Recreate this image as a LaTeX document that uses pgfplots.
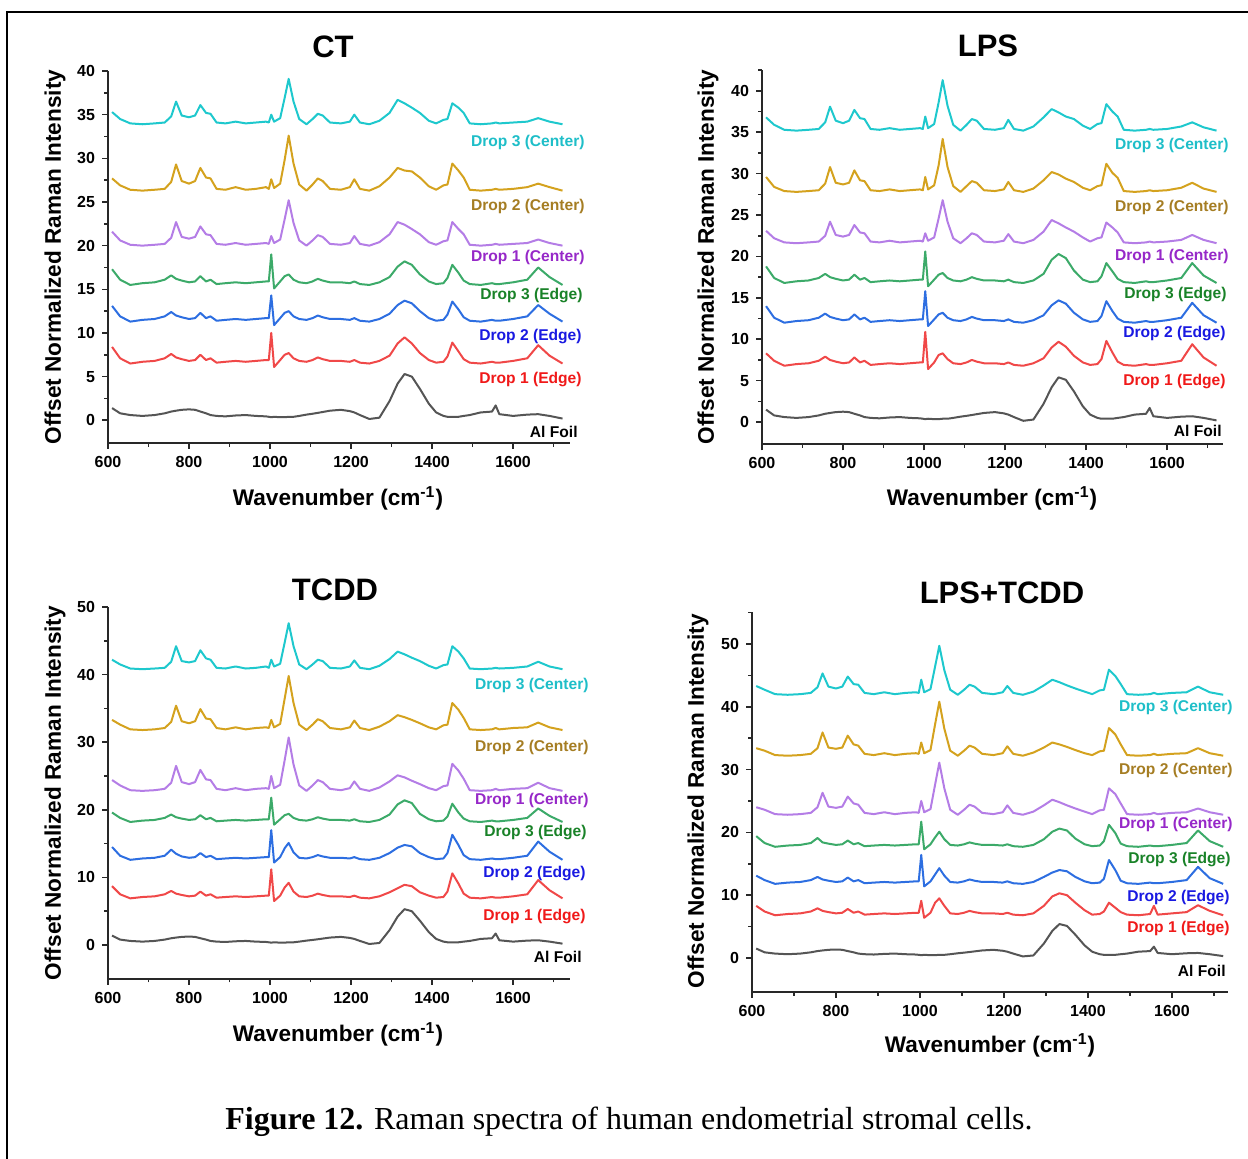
\documentclass[border=0pt]{standalone}
\usepackage{fontspec}
\setmainfont{Liberation Serif}
\newfontfamily\arial{Liberation Sans}
\usepackage{pgfplots}
\usepackage{pgfplotstable}
\pgfplotsset{compat=1.18}

\definecolor{grayL}{RGB}{85,85,85}
\definecolor{redL}{RGB}{240,72,72}
\definecolor{blueL}{RGB}{45,110,225}
\definecolor{greenL}{RGB}{60,170,105}
\definecolor{purpL}{RGB}{180,125,230}
\definecolor{goldL}{RGB}{212,162,30}
\definecolor{cyanL}{RGB}{30,200,205}
\definecolor{redT}{RGB}{240,25,25}
\definecolor{blueT}{RGB}{25,25,225}
\definecolor{greenT}{RGB}{25,130,40}
\definecolor{purpT}{RGB}{150,40,200}
\definecolor{goldT}{RGB}{165,125,35}
\definecolor{cyanT}{RGB}{30,190,200}
\definecolor{axisc}{RGB}{40,40,40}

\newcommand\tickfont{\arial\bfseries\fontsize{8}{9}\selectfont}
\newcommand\labfont{\arial\bfseries\fontsize{7.8}{9}\selectfont}
\newcommand\axfont{\arial\bfseries\fontsize{11.3}{13}\selectfont}
\newcommand\ttlfont{\arial\bfseries\fontsize{15.5}{18}\selectfont}

% columns: x, Al foil, Drop 1/2/3 (Edge) = r b g, Drop 1/2/3 (Center) = p o c
\pgfplotstableread{
x al r b g p o c
610 1.4 8.4 13.1 17.3 21.6 27.7 35.3
630 0.8 7.1 11.9 16.1 20.6 26.9 34.5
655 0.6 6.5 11.3 15.5 20.1 26.4 34.0
685 0.5 6.7 11.5 15.7 20.0 26.3 33.9
715 0.6 6.8 11.6 15.8 20.1 26.4 34.0
740 0.8 7.1 11.9 16.1 20.2 26.5 34.1
756 1.0 7.6 12.4 16.6 20.9 27.3 34.8
768 1.1 7.2 12.0 16.2 22.7 29.3 36.5
782 1.2 7.0 11.8 16.0 21.0 27.4 34.9
800 1.25 6.8 11.6 15.8 20.8 27.1 34.7
815 1.2 6.9 11.7 15.9 21.0 27.4 34.9
828 1.0 7.5 12.3 16.5 22.2 28.9 36.1
842 0.8 6.9 11.7 15.9 21.3 27.8 35.2
853 0.6 7.1 11.9 16.1 21.2 27.7 35.1
868 0.5 6.6 11.4 15.6 20.2 26.5 34.1
890 0.45 6.7 11.5 15.7 20.1 26.4 34.0
915 0.55 6.8 11.6 15.8 20.3 26.7 34.2
940 0.6 6.7 11.5 15.7 20.1 26.4 34.0
965 0.5 6.8 11.6 15.8 20.2 26.5 34.1
990 0.45 6.9 11.7 15.9 20.3 26.7 34.2
997 0.4 6.9 11.7 15.9 20.2 26.5 34.1
1003 0.35 10.0 14.3 19.0 21.1 27.6 35.0
1010 0.4 6.1 10.9 15.1 20.3 26.6 34.2
1025 0.35 6.9 11.7 15.9 20.7 27.1 34.6
1036 0.35 7.5 12.3 16.5 23.0 29.8 36.9
1046 0.4 7.7 12.5 16.7 25.2 32.6 39.1
1058 0.4 7.1 11.9 16.1 22.6 29.4 36.5
1072 0.5 6.8 11.6 15.8 20.6 27.0 34.5
1090 0.65 6.7 11.5 15.7 20.0 26.3 33.9
1105 0.75 6.9 11.7 15.9 20.6 27.0 34.5
1118 0.85 7.2 12.0 16.2 21.2 27.7 35.1
1130 0.95 7.0 11.8 16.0 21.0 27.4 34.9
1148 1.1 6.8 11.6 15.8 20.2 26.5 34.1
1175 1.2 6.8 11.6 15.8 20.1 26.4 34.0
1197 1.05 6.7 11.5 15.7 20.3 26.7 34.2
1208 0.9 6.9 11.7 15.9 21.1 27.6 35.0
1222 0.6 6.6 11.4 15.6 20.2 26.5 34.1
1245 0.15 6.5 11.3 15.5 20.0 26.3 33.9
1270 0.3 6.8 11.6 15.8 20.4 26.8 34.3
1295 2.2 7.4 12.2 16.4 21.3 27.8 35.2
1315 4.2 8.8 13.2 17.6 22.7 28.9 36.7
1332 5.3 9.5 13.7 18.2 22.4 28.6 36.3
1350 5.0 8.8 13.4 17.8 21.9 28.5 35.8
1370 3.6 7.7 12.5 16.7 21.3 27.8 35.2
1392 1.9 6.9 11.7 15.9 20.4 26.8 34.3
1410 0.9 6.6 11.4 15.6 20.1 26.4 34.0
1428 0.5 6.7 11.5 15.7 20.5 26.9 34.4
1438 0.4 7.3 12.1 16.3 20.6 27.0 34.5
1450 0.4 8.9 13.6 17.8 22.7 29.4 36.3
1465 0.4 7.9 12.7 16.9 21.9 28.6 35.8
1478 0.5 7.0 11.8 16.0 21.3 27.8 35.2
1493 0.6 6.6 11.4 15.6 20.1 26.4 34.0
1520 0.9 6.5 11.3 15.5 20.0 26.3 33.9
1548 1.0 6.7 11.5 15.7 20.1 26.4 34.0
1557 1.7 6.6 11.4 15.6 20.2 26.5 34.1
1566 0.7 6.6 11.4 15.6 20.1 26.4 34.0
1600 0.5 6.8 11.6 15.8 20.2 26.5 34.1
1635 0.65 7.1 11.9 16.1 20.3 26.7 34.2
1662 0.7 8.6 13.2 17.5 20.7 27.1 34.6
1690 0.5 7.4 12.2 16.4 20.3 26.7 34.2
1722 0.2 6.5 11.3 15.5 20.0 26.3 33.9
}\tabCT

\pgfplotstableread{
x al r b g p o c
610 1.5 8.3 14.0 18.8 23.1 29.6 36.8
630 0.8 7.4 12.6 17.4 22.2 28.4 35.9
655 0.6 6.8 12.0 16.8 21.7 27.9 35.3
685 0.5 7.0 12.2 17.0 21.6 27.8 35.2
715 0.6 7.1 12.3 17.1 21.7 27.9 35.3
740 0.8 7.4 12.6 17.4 21.8 28.0 35.4
756 1.0 7.9 13.1 17.9 22.5 28.8 36.2
768 1.1 7.5 12.7 17.5 24.2 30.8 38.1
782 1.2 7.3 12.5 17.3 22.6 28.9 36.4
800 1.25 7.1 12.3 17.1 22.4 28.7 36.1
815 1.2 7.2 12.4 17.2 22.6 28.9 36.4
828 1.0 7.8 13.0 17.8 23.8 30.4 37.7
842 0.8 7.2 12.4 17.2 22.9 29.2 36.7
853 0.6 7.4 12.6 17.4 22.8 29.1 36.6
868 0.5 6.9 12.1 16.9 21.8 28.0 35.4
890 0.45 7.0 12.2 17.0 21.7 27.9 35.3
915 0.55 7.1 12.3 17.1 21.9 28.1 35.5
940 0.6 7.0 12.2 17.0 21.7 27.9 35.3
965 0.5 7.1 12.3 17.1 21.8 28.0 35.4
990 0.45 7.2 12.4 17.2 21.9 28.1 35.5
997 0.4 7.2 12.4 17.2 21.8 28.0 35.4
1003 0.35 10.9 15.8 20.6 22.8 29.6 36.9
1010 0.4 6.4 11.6 16.4 21.9 28.1 35.5
1025 0.35 7.2 12.4 17.2 22.3 28.6 36.0
1036 0.35 8.1 13.0 17.8 24.6 31.0 38.6
1046 0.4 8.3 13.2 18.0 26.8 34.2 41.3
1058 0.4 7.6 12.6 17.4 24.2 30.8 38.2
1072 0.5 7.1 12.3 17.1 22.2 28.5 35.9
1090 0.65 7.0 12.2 17.0 21.6 27.8 35.2
1105 0.75 7.2 12.4 17.2 22.2 28.5 35.9
1118 0.85 7.5 12.7 17.5 22.8 29.1 36.6
1130 0.95 7.3 12.5 17.3 22.6 28.9 36.4
1148 1.1 7.1 12.3 17.1 21.8 28.0 35.4
1175 1.2 7.1 12.3 17.1 21.7 27.9 35.3
1197 1.05 7.0 12.2 17.0 21.9 28.1 35.5
1208 0.9 7.2 12.4 17.2 22.7 29.0 36.5
1222 0.6 6.9 12.1 16.9 21.8 28.0 35.4
1245 0.15 6.8 12.0 16.8 21.6 27.8 35.2
1270 0.3 7.1 12.3 17.1 22.0 28.2 35.7
1295 2.2 7.7 12.9 17.9 23.0 29.2 36.8
1315 4.2 9.0 14.1 19.6 24.4 30.2 37.8
1332 5.4 9.7 14.7 20.3 24.0 29.9 37.4
1350 5.1 9.1 14.3 19.8 23.5 29.4 36.9
1370 3.7 8.0 13.2 18.3 23.0 29.0 36.6
1392 1.9 7.2 12.4 17.2 22.3 28.3 35.8
1410 0.9 6.9 12.1 16.9 21.8 28.0 35.4
1428 0.5 7.0 12.2 17.0 22.2 28.5 36.0
1438 0.4 7.6 12.8 17.6 22.3 28.6 36.1
1450 0.4 9.8 14.6 19.2 24.1 31.2 38.4
1465 0.4 8.4 13.4 18.2 23.5 30.1 37.5
1478 0.5 7.3 12.5 17.3 22.9 29.5 36.9
1493 0.6 6.9 12.1 16.9 21.7 27.9 35.3
1520 0.9 6.8 12.0 16.8 21.6 27.8 35.2
1548 1.0 7.0 12.2 17.0 21.7 27.9 35.3
1557 1.7 6.9 12.1 16.9 21.8 28.0 35.4
1566 0.7 6.9 12.1 16.9 21.7 27.9 35.3
1600 0.5 7.1 12.3 17.1 21.8 28.0 35.4
1635 0.65 7.4 12.6 17.4 22.0 28.3 35.7
1662 0.7 9.4 14.4 19.2 22.6 28.9 36.2
1690 0.5 7.8 12.9 17.7 22.0 28.2 35.6
1722 0.2 6.8 12.0 16.8 21.6 27.8 35.2
}\tabLPS

\pgfplotstableread{
x al r b g p o c
610 1.4 8.7 14.5 19.6 24.4 33.3 42.2
630 0.8 7.5 13.2 18.8 23.6 32.6 41.5
655 0.6 6.9 12.6 18.2 22.9 31.9 40.9
685 0.5 7.1 12.8 18.4 22.8 31.8 40.8
715 0.6 7.2 12.9 18.5 22.9 31.9 40.9
740 0.8 7.5 13.2 18.8 23.1 32.1 41.0
756 1.0 8.0 14.1 19.3 24.0 33.0 41.9
768 1.1 7.6 13.5 18.9 26.5 35.4 44.2
782 1.2 7.4 13.1 18.7 24.1 33.1 42.0
800 1.25 7.2 12.9 18.5 23.8 32.8 41.8
815 1.2 7.3 13.0 18.6 24.1 33.1 42.0
828 1.0 7.9 13.6 19.2 25.9 34.9 43.6
842 0.8 7.3 13.0 18.6 24.5 33.5 42.4
853 0.6 7.5 13.2 18.8 24.4 33.4 42.2
868 0.5 7.0 12.7 18.3 23.1 32.1 41.0
890 0.45 7.1 12.8 18.4 22.9 31.9 40.9
915 0.55 7.2 12.9 18.5 23.2 32.2 41.2
940 0.6 7.1 12.8 18.4 22.9 31.9 40.9
965 0.5 7.2 12.9 18.5 23.1 32.1 41.0
990 0.45 7.3 13.0 18.6 23.2 32.2 41.2
997 0.4 7.3 13.0 18.6 23.1 32.1 41.0
1003 0.35 11.2 17.0 21.8 25.0 33.3 42.2
1010 0.4 6.5 12.2 17.8 23.2 32.2 41.2
1025 0.35 7.3 13.0 18.6 23.7 32.7 41.6
1036 0.35 8.5 14.3 19.2 27.3 36.4 44.7
1046 0.4 9.2 15.1 19.4 30.7 39.8 47.6
1058 0.4 7.9 13.7 18.8 26.7 35.8 44.2
1072 0.5 7.2 12.9 18.5 23.6 32.6 41.5
1090 0.65 7.1 12.8 18.4 22.8 31.8 40.8
1105 0.75 7.3 13.0 18.6 23.6 32.6 41.5
1118 0.85 7.6 13.3 18.9 24.4 33.4 42.2
1130 0.95 7.4 13.1 18.7 24.1 33.1 42.0
1148 1.1 7.2 12.9 18.5 23.1 32.1 41.0
1175 1.2 7.2 12.9 18.5 22.9 31.9 40.9
1197 1.05 7.1 12.8 18.4 23.2 32.2 41.2
1208 0.9 7.3 13.0 18.6 24.2 33.2 42.1
1222 0.6 7.0 12.7 18.3 23.1 32.1 41.0
1245 0.15 6.9 12.6 18.2 22.8 31.8 40.8
1270 0.3 7.2 12.9 18.5 23.3 32.3 41.3
1295 2.2 7.8 13.6 19.3 24.2 33.1 42.3
1315 4.2 8.4 14.4 20.8 25.1 34.0 43.4
1332 5.3 8.9 14.8 21.4 24.8 33.7 43.0
1350 5.0 8.7 14.6 21.0 24.3 33.3 42.5
1370 3.6 7.8 13.6 19.4 23.8 32.8 42.0
1392 1.9 7.3 13.0 18.6 23.2 32.2 41.3
1410 0.9 7.0 12.7 18.3 22.9 31.9 40.9
1428 0.5 7.1 12.8 18.4 23.5 32.5 41.4
1438 0.4 7.9 13.6 19.0 23.6 32.6 41.5
1450 0.4 10.6 16.3 20.9 26.8 35.8 44.2
1465 0.4 9.1 14.8 19.6 25.8 34.8 43.4
1478 0.5 7.6 13.3 18.7 24.6 33.6 42.4
1493 0.6 7.0 12.7 18.3 22.9 31.9 40.9
1520 0.9 6.9 12.6 18.2 22.8 31.8 40.8
1548 1.0 7.1 12.8 18.4 22.9 31.9 40.9
1557 1.7 7.0 12.7 18.3 23.1 32.1 41.0
1566 0.7 7.0 12.7 18.3 22.9 31.9 40.9
1600 0.5 7.2 12.9 18.5 23.1 32.1 41.0
1635 0.65 7.5 13.2 18.8 23.2 32.2 41.2
1662 0.7 9.6 15.3 20.2 24.0 32.9 41.9
1690 0.5 8.1 13.8 19.1 23.2 32.2 41.2
1722 0.2 6.9 12.6 18.2 22.8 31.8 40.8
}\tabTCDD

\pgfplotstableread{
x al r b g p o c
610 1.5 8.3 13.1 19.4 24.0 33.4 43.3
630 0.9 7.4 12.4 18.3 23.6 33.0 42.7
655 0.7 6.8 11.8 17.7 22.9 32.3 42.0
685 0.6 7.0 12.0 17.9 22.8 32.2 41.9
715 0.7 7.1 12.1 18.0 22.9 32.3 42.0
740 0.9 7.4 12.4 18.3 23.1 32.5 42.2
756 1.1 7.9 12.9 19.1 24.0 33.4 43.1
768 1.2 7.5 12.5 18.4 26.3 35.9 45.3
782 1.3 7.3 12.3 18.2 24.1 33.5 43.2
800 1.35 7.1 12.1 18.0 23.9 33.3 42.9
815 1.3 7.2 12.2 18.1 24.1 33.5 43.2
828 1.1 7.8 12.8 18.7 25.7 35.4 44.8
842 0.9 7.2 12.2 18.1 24.6 34.0 43.6
853 0.7 7.4 12.4 18.3 24.4 33.8 43.5
868 0.6 6.9 11.9 17.8 23.1 32.5 42.2
890 0.55 7.0 12.0 17.9 22.9 32.3 42.0
915 0.65 7.1 12.1 18.0 23.2 32.6 42.3
940 0.7 7.0 12.0 17.9 22.9 32.3 42.0
965 0.6 7.1 12.1 18.0 23.1 32.5 42.2
990 0.55 7.2 12.2 18.1 23.2 32.6 42.3
997 0.5 7.2 12.2 18.1 23.1 32.5 42.2
1003 0.45 9.1 16.4 21.7 25.0 34.3 44.3
1010 0.5 6.4 11.4 17.3 23.2 32.6 42.3
1025 0.45 7.2 12.2 18.1 23.7 33.1 42.8
1036 0.45 8.8 13.3 19.2 27.6 37.2 46.4
1046 0.5 9.5 14.3 20.1 31.1 40.8 49.7
1058 0.5 8.3 13.1 18.9 27.0 36.5 45.8
1072 0.6 7.1 12.1 18.0 23.6 33.0 42.7
1090 0.75 7.0 12.0 17.9 22.8 32.2 41.9
1105 0.85 7.2 12.2 18.1 23.6 33.0 42.7
1118 0.95 7.5 12.5 18.4 24.4 33.8 43.5
1130 1.05 7.3 12.3 18.2 24.1 33.5 43.2
1148 1.2 7.1 12.1 18.0 23.1 32.5 42.2
1175 1.3 7.1 12.1 18.0 22.9 32.3 42.0
1197 1.15 7.0 12.0 17.9 23.2 32.6 42.3
1208 1.0 7.2 12.2 18.1 24.3 33.7 43.3
1222 0.7 6.9 11.9 17.8 23.1 32.5 42.2
1245 0.25 6.8 11.8 17.7 22.8 32.2 41.9
1270 0.4 7.1 12.1 18.0 23.3 32.7 42.4
1295 2.3 8.3 12.9 18.9 24.3 33.5 43.4
1315 4.3 9.8 13.6 20.1 25.2 34.3 44.3
1332 5.4 10.3 14.0 20.6 24.8 34.0 43.9
1350 5.1 10.0 13.8 20.3 24.3 33.6 43.4
1370 3.7 8.8 12.9 19.0 23.8 33.1 42.9
1392 2.0 7.6 12.2 18.1 23.3 32.6 42.4
1410 1.0 6.9 11.9 17.8 22.9 32.3 42.0
1428 0.6 7.0 12.0 17.9 23.5 32.9 42.6
1438 0.5 7.4 12.6 18.6 23.6 33.0 42.7
1450 0.5 8.8 15.6 21.2 27.0 36.6 45.9
1465 0.5 8.0 14.0 19.9 26.1 35.6 44.9
1478 0.6 7.3 12.3 18.2 24.6 34.0 43.6
1493 0.7 6.9 11.9 17.8 22.9 32.3 42.0
1520 1.0 6.8 11.8 17.7 22.8 32.2 41.9
1548 1.1 7.0 12.0 17.9 22.9 32.3 42.0
1557 1.8 8.3 11.9 17.8 23.1 32.5 42.2
1566 0.8 6.9 11.9 17.8 22.9 32.3 42.0
1600 0.6 7.1 12.1 18.0 23.1 32.5 42.2
1635 0.75 7.3 12.4 18.3 23.2 32.6 42.3
1662 0.8 8.4 14.5 20.3 23.8 33.4 43.2
1690 0.6 7.5 12.7 18.6 23.2 32.6 42.3
1722 0.3 6.8 11.8 17.7 22.8 32.2 41.9
}\tabLT

\pgfplotsset{
  raman/.style={
    scale only axis, anchor=south west,
    axis lines=left, axis line style={-, line width=0.9pt, color=axisc},
    tick align=outside, major tick length=3pt, minor tick length=1.8pt,
    tick style={line width=0.8pt, color=axisc},
    xtick={600,800,...,1600}, minor xtick={700,900,...,1700},
    tick label style={font=\tickfont, text=black},
    /pgf/number format/1000 sep={},
    /pgf/number format/assume math mode=true,
    clip=false,
    every axis plot/.append style={line width=1pt, line join=round},
  }
}

\newcommand\spectra[1]{%
  \addplot[grayL] table[x=x, y=al]{#1};
  \addplot[redL] table[x=x, y=r]{#1};
  \addplot[blueL] table[x=x, y=b]{#1};
  \addplot[greenL] table[x=x, y=g]{#1};
  \addplot[purpL] table[x=x, y=p]{#1};
  \addplot[goldL] table[x=x, y=o]{#1};
  \addplot[cyanL] table[x=x, y=c]{#1};
}

% text labels, placed in picture pixels
\newcommand\droplabels[8]{%
  \node[anchor=east, inner sep=0pt, font=\labfont, text=cyanT] at (#1,#2) {Drop 3 (Center)};
  \node[anchor=east, inner sep=0pt, font=\labfont, text=goldT] at (#1,#3) {Drop 2 (Center)};
  \node[anchor=east, inner sep=0pt, font=\labfont, text=purpT] at (#1,#4) {Drop 1 (Center)};
  \node[anchor=east, inner sep=0pt, font=\labfont, text=greenT] at (#1-2,#5) {Drop 3 (Edge)};
  \node[anchor=east, inner sep=0pt, font=\labfont, text=blueT] at (#1-3,#6) {Drop 2 (Edge)};
  \node[anchor=east, inner sep=0pt, font=\labfont, text=redT] at (#1-3,#7) {Drop 1 (Edge)};
  \node[anchor=east, inner sep=0pt, font=\labfont, text=black] at (#1-7,#8) {Al Foil};
}

\begin{document}
\begin{tikzpicture}
\useasboundingbox (0,0) rectangle (624pt,579pt);
\draw[line width=0.8pt, black] (3.5pt,-2pt) -- (3.5pt,573pt) -- (626pt,573pt);

\begin{axis}[raman, at={(54pt,357.5pt)}, width=230.9pt, height=186pt,
  xmin=600, xmax=1740, ymin=-2.6, ymax=40,
  ytick={0,5,...,40}, minor ytick={2.5,7.5,...,37.5}]
\spectra{\tabCT}
\end{axis}

\begin{axis}[raman, at={(381pt,356.8pt)}, width=230.5pt, height=187.1pt,
  xmin=600, xmax=1738, ymin=-2.7, ymax=42.5,
  ytick={0,5,...,40}, minor ytick={2.5,7.5,...,42.5}]
\spectra{\tabLPS}
\end{axis}

\begin{axis}[raman, at={(54pt,89.6pt)}, width=230.9pt, height=185.9pt,
  xmin=600, xmax=1740, ymin=-5, ymax=50,
  ytick={0,10,...,50}, minor ytick={5,15,...,45}]
\spectra{\tabTCDD}
\end{axis}

\begin{axis}[raman, at={(376pt,83.05pt)}, width=237.9pt, height=189.7pt,
  xmin=600, xmax=1733, ymin=-5.4, ymax=55,
  ytick={0,10,...,50}, minor ytick={5,15,...,55}]
\spectra{\tabLT}
\end{axis}

\begin{scope}[x=0.5pt, y=-0.5pt, yshift=579pt]
\node[font=\ttlfont] at (333,47) {CT};
\node[font=\ttlfont] at (988,46) {LPS};
\node[font=\ttlfont] at (335,590) {TCDD};
\node[font=\ttlfont] at (1002,593) {LPS+TCDD};
\node[font=\axfont, rotate=90] at (55,257) {Offset Normalized Raman Intensity};
\node[font=\axfont, rotate=90] at (708,257) {Offset Normalized Raman Intensity};
\node[font=\axfont, rotate=90] at (55,793) {Offset Normalized Raman Intensity};
\node[font=\axfont, rotate=90] at (698,801) {Offset Normalized Raman Intensity};
\node[font=\axfont] at (338,498) {Wavenumber (cm\textsuperscript{-1})};
\node[font=\axfont] at (992,498) {Wavenumber (cm\textsuperscript{-1})};
\node[font=\axfont] at (338,1034) {Wavenumber (cm\textsuperscript{-1})};
\node[font=\axfont] at (990,1045) {Wavenumber (cm\textsuperscript{-1})};
\droplabels{585}{142}{206}{257}{296}{337}{380}{432}
\droplabels{1229}{145}{207}{256}{295}{334}{382}{431}
\droplabels{589}{685}{747}{800}{833}{873}{916}{957}
\droplabels{1233}{707}{770}{824}{859}{897}{929}{971}
\node[font=\fontsize{16}{19}\selectfont] at (629,1122)
  {\textbf{Figure 12.} Raman spectra of human endometrial stromal cells.};
\end{scope}
\end{tikzpicture}
\end{document}
